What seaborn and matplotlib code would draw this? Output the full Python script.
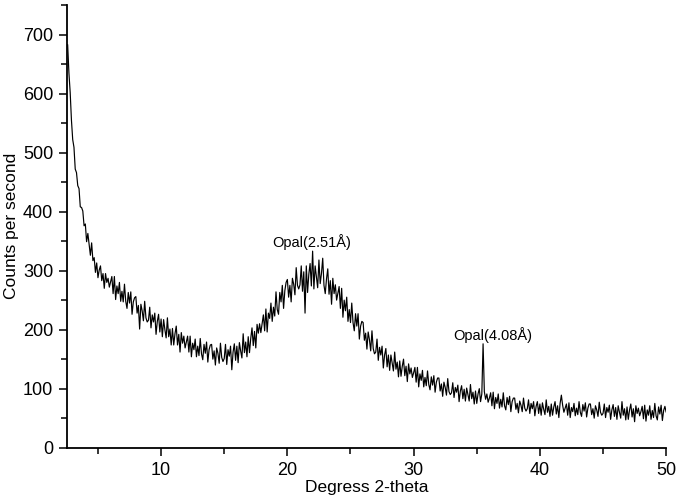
import numpy as np
import pandas as pd
import matplotlib
matplotlib.use("Agg")
import matplotlib.pyplot as plt
import seaborn as sns
from matplotlib.ticker import MultipleLocator

# XRD scan: 2-theta grid (start, step) and counts
TWO_THETA_START = 2.6
TWO_THETA_STEP = 0.1
counts = [
    683, 635, 602, 555,
    522, 509, 472, 466, 444, 439, 408, 407, 401, 376,
    379, 349, 363, 344, 326, 347, 317, 322, 297, 313,
    288, 301, 308, 283, 295, 270, 295, 280, 287, 272,
    281, 290, 261, 290, 251, 274, 261, 280, 248, 265,
    247, 277, 248, 236, 263, 245, 264, 226, 247, 254,
    256, 228, 241, 201, 243, 232, 215, 248, 220, 213,
    216, 238, 203, 225, 213, 228, 192, 214, 226, 196,
    218, 188, 217, 200, 186, 220, 188, 201, 174, 202,
    174, 193, 206, 174, 192, 162, 195, 177, 189, 169,
    179, 189, 162, 189, 154, 177, 166, 184, 154, 172,
    156, 185, 159, 149, 175, 160, 179, 145, 166, 174,
    175, 150, 164, 140, 169, 160, 143, 177, 153, 146,
    151, 175, 141, 166, 155, 172, 132, 162, 176, 148,
    172, 144, 178, 164, 152, 193, 161, 179, 154, 188,
    161, 185, 203, 173, 197, 169, 209, 194, 210, 195,
    210, 225, 198, 235, 196, 228, 219, 245, 214, 238,
    223, 264, 234, 226, 263, 247, 275, 236, 266, 280,
    285, 255, 275, 247, 287, 277, 259, 305, 275, 269,
    276, 308, 265, 298, 228, 308, 263, 294, 312, 274,
    333, 269, 308, 289, 271, 318, 278, 295, 321, 275,
    261, 286, 303, 260, 283, 243, 287, 261, 276, 250,
    262, 273, 236, 270, 221, 250, 232, 255, 214, 234,
    212, 245, 212, 198, 227, 206, 227, 184, 206, 214,
    212, 182, 194, 167, 196, 183, 164, 198, 168, 159,
    162, 184, 148, 170, 157, 172, 135, 157, 168, 137,
    157, 131, 157, 143, 130, 162, 133, 145, 120, 147,
    121, 138, 150, 122, 138, 112, 142, 125, 135, 119,
    127, 136, 111, 136, 103, 125, 114, 131, 103, 119,
    105, 130, 107, 98, 120, 106, 122, 94, 111, 118,
    118, 96, 108, 87, 111, 102, 89, 117, 95, 90,
    93, 110, 85, 102, 94, 106, 78, 96, 105, 83,
    99, 79, 101, 90, 79, 107, 83, 94, 74, 96,
    75, 91, 100, 78, 91, 176, 95, 82, 91, 77,
    84, 93, 71, 94, 66, 85, 75, 91, 67, 82,
    69, 93, 71, 64, 85, 73, 87, 61, 78, 84,
    84, 65, 75, 59, 79, 72, 61, 84, 67, 62,
    66, 81, 58, 75, 66, 78, 54, 70, 78, 58,
    74, 55, 76, 65, 56, 81, 60, 70, 53, 74,
    55, 69, 78, 57, 71, 51, 75, 89, 72, 60,
    67, 74, 55, 76, 51, 68, 61, 75, 54, 67,
    56, 78, 60, 53, 73, 62, 76, 52, 67, 74,
    74, 56, 66, 50, 71, 64, 53, 77, 60, 55,
    58, 74, 51, 68, 60, 72, 48, 64, 73, 53,
    68, 48, 71, 60, 50, 78, 55, 66, 47, 69,
    48, 64, 74, 52, 66, 44, 71, 58, 67, 54,
    61, 70, 49, 72, 45, 64, 55, 71, 48, 63,
    51, 75, 54, 47, 69, 57, 72, 46, 63, 70,
    60,
]

peak_labels = ["Opal(2.51Å)", "Opal(4.08Å)"]
peak_label_x = [21.9, 36.3]
peak_label_y = [348, 191]

two_theta = np.round(TWO_THETA_START + TWO_THETA_STEP * np.arange(len(counts)), 2)
df = pd.DataFrame({"two_theta": two_theta, "cps": counts})

sns.set_style("ticks")
plt.rcParams["font.family"] = ["Liberation Sans", "DejaVu Sans"]
plt.rcParams["text.color"] = "black"

fig = plt.figure(figsize=(6.77, 5.03), dpi=100)
ax = fig.add_axes([0.099, 0.110, 0.885, 0.880])

sns.lineplot(data=df, x="two_theta", y="cps", color="black", linewidth=0.85, ax=ax)

for txt, x, y in zip(peak_labels, peak_label_x, peak_label_y):
    ax.text(x, y, txt, ha="center", va="center", fontsize=10.5, color="black")

ax.set_xlim(2.55, 50)
ax.set_ylim(0, 750)
ax.xaxis.set_major_locator(MultipleLocator(10))
ax.xaxis.set_minor_locator(MultipleLocator(5))
ax.yaxis.set_major_locator(MultipleLocator(100))
ax.yaxis.set_minor_locator(MultipleLocator(50))
ax.tick_params(which="major", direction="out", length=6, width=1.1, pad=4,
               labelsize=13, colors="black")
ax.tick_params(which="minor", direction="out", length=4, width=1.1, colors="black")

sns.despine(ax=ax)
for s in ["left", "bottom"]:
    ax.spines[s].set_linewidth(1.3)
    ax.spines[s].set_color("black")

ax.set_xlabel("Degress 2-theta", fontsize=12.5, labelpad=1, color="black")
ax.set_ylabel("Counts per second", fontsize=12.5, labelpad=3, color="black")

fig.savefig("out.png", dpi=100)
